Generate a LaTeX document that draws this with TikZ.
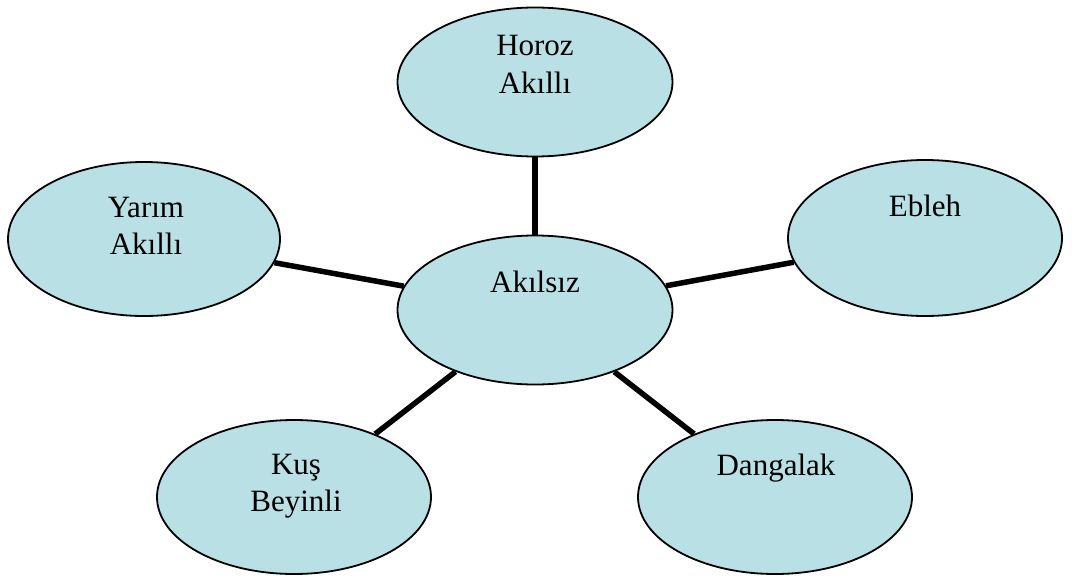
\documentclass[tikz,border=0pt]{standalone}
\usepackage{fontspec}
\setmainfont{Liberation Serif}
\usetikzlibrary{shapes.geometric}
\definecolor{bubble}{HTML}{B9E0E4}
\tikzset{
  bubble/.style={ellipse, draw=black, line width=1.8pt, fill=bubble, inner sep=0pt, minimum width=274pt, minimum height=152pt},
  word/.style={anchor=base, inner sep=0pt, font=\fontsize{31}{37}\selectfont},
  link/.style={line width=5.5pt}
}
\begin{document}
\begin{tikzpicture}[x=1pt,y=-1pt]
\useasboundingbox (0,0) rectangle (1072,576);
\node[bubble, minimum height=149pt, minimum width=275pt] (c) at (535,310) {};
\node[bubble, minimum height=149pt, minimum width=275pt] (top) at (535,82) {};
\node[bubble, minimum width=272pt, minimum height=154pt] (left) at (144,239) {};
\node[bubble, minimum height=156pt] (right) at (925,238) {};
\node[bubble, minimum height=154pt] (bl) at (294,497) {};
\node[bubble, minimum height=154pt] (br) at (775,497) {};
\draw[link] (c) -- (top);
\draw[link] (c) -- (left);
\draw[link] (c) -- (right);
\draw[link] (c) -- (bl);
\draw[link] (c) -- (br);
\node[word] (tc) at (535,292) {Akılsız};
\node[word] (tt1) at (535,55) {Horoz};
\node[word] (tt2) at (535,93) {Akıllı};
\node[word] (tl1) at (146,217) {Yarım};
\node[word] (tl2) at (146,254) {Akıllı};
\node[word] (tr) at (925,216) {Ebleh};
\node[word] (tb1) at (296,474) {Kuş};
\node[word] (tb2) at (296,511) {Beyinli};
\node[word] (tbr) at (776,475) {Dangalak};
\end{tikzpicture}
\end{document}
